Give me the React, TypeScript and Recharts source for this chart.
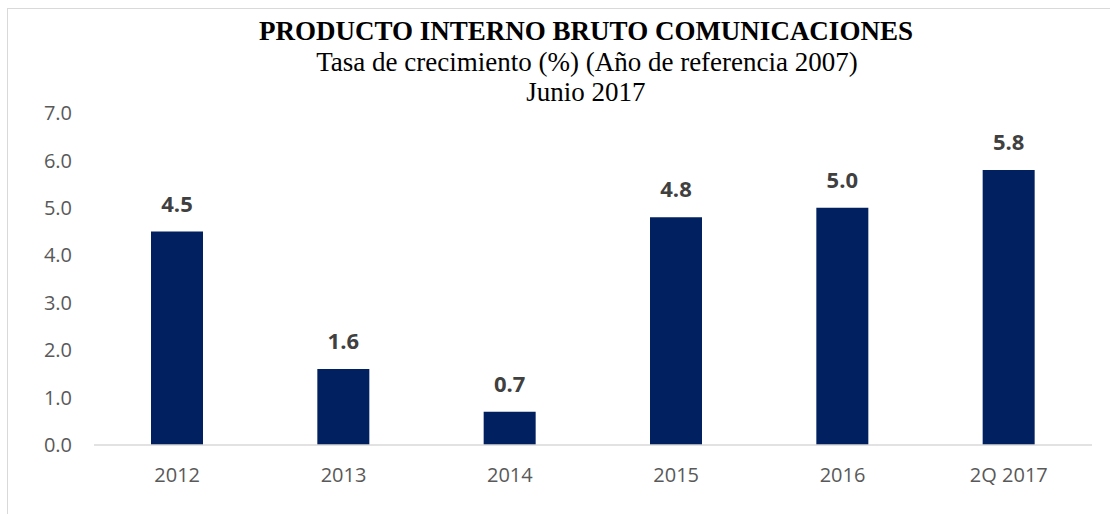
import { Bar, BarChart, LabelList, XAxis, YAxis } from 'recharts';

const categories = ['2012', '2013', '2014', '2015', '2016', '2Q 2017'];
const growth = [4.5, 1.6, 0.7, 4.8, 5.0, 5.8];
const yTicks = [0, 1, 2, 3, 4, 5, 6, 7];

const titleLines = [
  'PRODUCTO INTERNO BRUTO COMUNICACIONES',
  'Tasa de crecimiento (%) (Año de referencia 2007)',
  'Junio 2017',
];

const data = categories.map((c, i) => ({ name: c, value: growth[i] }));

const W = 1110;
const H = 514;

export default function App() {
  return (
    <div
      style={{
        position: 'absolute',
        left: 0,
        top: 0,
        width: W,
        height: H,
        overflow: 'hidden',
        background: '#fff',
      }}
    >
      {/* marco del gráfico (sigue fuera de la imagen) */}
      <div
        style={{
          position: 'absolute',
          left: 7,
          top: 8,
          width: 1300,
          height: 700,
          border: '1px solid #d9d9d9',
        }}
      />
      <BarChart
        width={W}
        height={H}
        data={data}
        margin={{ top: 113, right: 18, bottom: 0, left: 0 }}
        barSize={52}
      >
        <XAxis
          dataKey="name"
          height={69}
          tickLine={false}
          tickSize={0}
          tickMargin={23}
          axisLine={{ stroke: '#d9d9d9', strokeWidth: 1.5 }}
          tick={{ fill: '#595959', fontSize: 20, fontFamily: 'Open Sans' }}
        />
        <YAxis
          width={94}
          domain={[0, 7]}
          ticks={yTicks}
          interval={0}
          axisLine={false}
          tickLine={false}
          tickSize={0}
          tickMargin={22}
          tickFormatter={(v: number) => v.toFixed(1)}
          tick={{ fill: '#595959', fontSize: 20, fontFamily: 'Open Sans' }}
        />
        <Bar dataKey="value" fill="#002060" isAnimationActive={false}>
          <LabelList
            dataKey="value"
            position="top"
            offset={20}
            formatter={(v: number) => v.toFixed(1)}
            style={{ fill: '#404040', fontSize: 22, fontWeight: 700, fontFamily: 'Open Sans' }}
          />
        </Bar>
      </BarChart>
      <svg
        width={W}
        height={H}
        style={{ position: 'absolute', left: 0, top: 0, pointerEvents: 'none' }}
      >
        <text x={586} y={40} textAnchor="middle" fontFamily="Liberation Serif" fontSize={27} fontWeight={700} fill="#000">
          {titleLines[0]}
        </text>
        <text x={587} y={71} textAnchor="middle" fontFamily="Liberation Serif" fontSize={27} fill="#000">
          {titleLines[1]}
        </text>
        <text x={586} y={101} textAnchor="middle" fontFamily="Liberation Serif" fontSize={27} fill="#000">
          {titleLines[2]}
        </text>
      </svg>
    </div>
  );
}
